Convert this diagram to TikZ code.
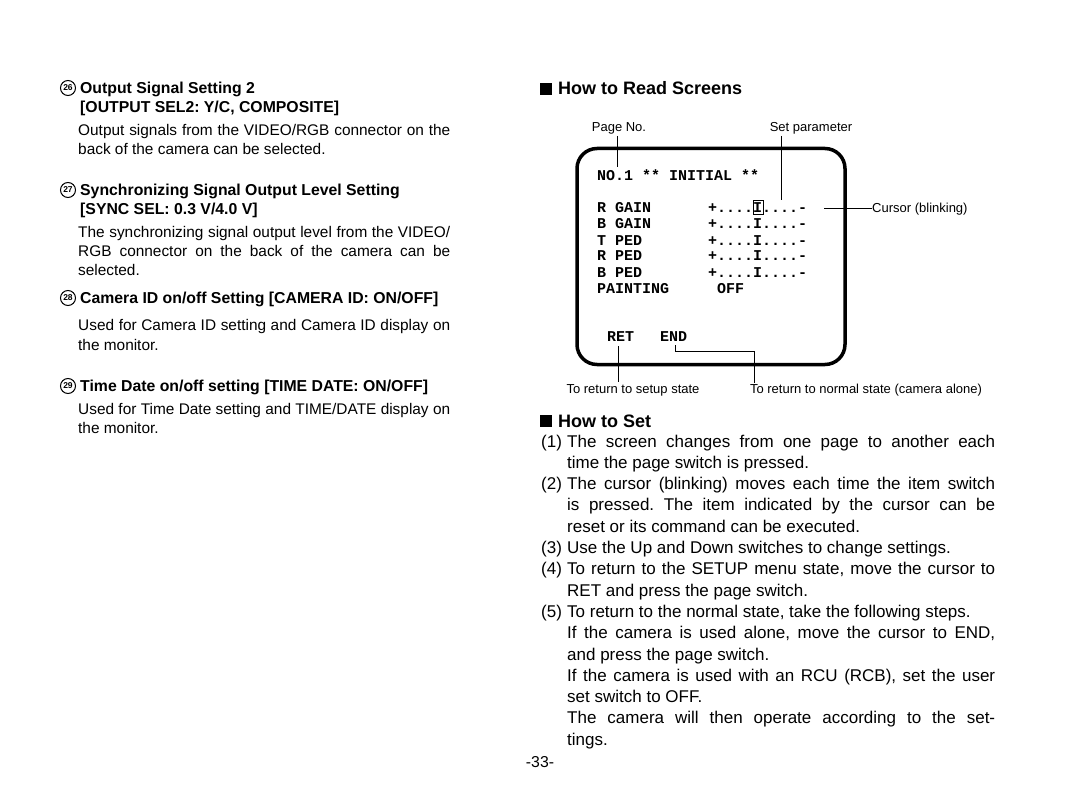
\documentclass[tikz,border=0pt]{standalone}
\usepackage{fontspec}
\setmainfont{Liberation Sans}
\newfontfamily\scrmono{Liberation Mono}
\newcommand\jl[1]{\makebox[372pt][s]{#1}}
\newcommand\jr[1]{\makebox[428pt][s]{#1}}
\frenchspacing
\begin{document}
\begin{tikzpicture}[x=1pt,y=-1pt,
  body/.style={anchor=base west, inner sep=0pt, font=\fontsize{15.4}{19}\selectfont},
  bodyr/.style={anchor=base west, inner sep=0pt, font=\fontsize{17}{21}\selectfont},
  head/.style={anchor=base west, inner sep=0pt, font=\fontsize{15.8}{19}\selectfont\bfseries},
  headr/.style={anchor=base west, inner sep=0pt, font=\fontsize{18}{21}\selectfont\bfseries},
  capt/.style={anchor=base, inner sep=0pt, font=\fontsize{13}{15}\selectfont},
  scr/.style={anchor=base west, inner sep=0pt, font=\fontsize{15}{16}\selectfont\scrmono\bfseries},
  num/.style={circle, draw, line width=1pt, inner sep=0pt, minimum size=15pt, font=\fontsize{8.5}{9}\selectfont\bfseries},
  lead/.style={line width=0.8pt},
  sq/.style={fill=black, minimum size=12pt, inner sep=0pt}]
\useasboundingbox (0,0) rectangle (1080,797);
\fill[white] (0,0) rectangle (1080,797);

% ---------------- left column ----------------
\node[num] (n26) at (68,88) {26};
\node[head] (t26a) at (80,93.5) {Output Signal Setting 2};
\node[head] (t26b) at (80,112.5) {[OUTPUT SEL2: Y/C, COMPOSITE]};
\node[body] (b26a) at (78,135.5) {\jl{Output signals from the VIDEO/RGB connector on the}};
\node[body] (b26b) at (78,154.5) {back of the camera can be selected.};

\node[num] (n27) at (68,190) {27};
\node[head] (t27a) at (80,195.5) {Synchronizing Signal Output Level Setting};
\node[head] (t27b) at (80,214.5) {[SYNC SEL: 0.3 V/4.0 V]};
\node[body] (b27a) at (78,237.5) {\jl{The synchronizing signal output level from the VIDEO/}};
\node[body] (b27b) at (78,256.5) {\jl{RGB connector on the back of the camera can be}};
\node[body] (b27c) at (78,275.5) {selected.};

\node[num] (n28) at (68,298) {28};
\node[head] (t28a) at (80,303.5) {Camera ID on/off Setting [CAMERA ID: ON/OFF]};
\node[body] (b28a) at (78,330) {\jl{Used for Camera ID setting and Camera ID display on}};
\node[body] (b28b) at (78,350) {the monitor.};

\node[num] (n29) at (68,386) {29};
\node[head] (t29a) at (80,391.5) {Time Date on/off setting [TIME DATE: ON/OFF]};
\node[body] (b29a) at (78,414.5) {\jl{Used for Time Date setting and TIME/DATE display on}};
\node[body] (b29b) at (78,433.5) {the monitor.};

% ---------------- right column: screen ----------------
\node[sq] (sq1) at (546,89) {};
\node[headr] (h1) at (558,95) {How to Read Screens};

\node[capt] (pageno) at (619,131.5) {Page No.};
\node[capt] (setpar) at (811,131.5) {Set parameter};

\node[draw, line width=3.5pt, rounded corners=20pt, minimum width=268pt, minimum height=216pt, inner sep=0pt] (screen) at (711,256.5) {};

\node[scr] (s0) at (597,181) {NO.1 ** INITIAL **};
\node[scr] (s1) at (597,213) {R GAIN};
\node[scr] (s2) at (597,229) {B GAIN};
\node[scr] (s3) at (597,245) {T PED};
\node[scr] (s4) at (597,261) {R PED};
\node[scr] (s5) at (597,277) {B PED};
\node[scr] (s6) at (597,293) {PAINTING};
\node[scr] (v1) at (708,213) {+....I....-};
\node[scr] (v2) at (708,229) {+....I....-};
\node[scr] (v3) at (708,245) {+....I....-};
\node[scr] (v4) at (708,261) {+....I....-};
\node[scr] (v5) at (708,277) {+....I....-};
\node[scr] (v6) at (717,293) {OFF};
\node[scr] (ret) at (607,341) {RET};
\node[scr] (endn) at (660,341) {END};
\node[draw, line width=0.8pt, minimum width=10pt, minimum height=14pt, inner sep=0pt] (cursor) at (758,207.5) {};

\node[capt, anchor=base west] (curlab) at (872,212.5) {Cursor (blinking)};
\node[capt] (retlab) at (633,393.5) {To return to setup state};
\node[capt] (endlab) at (866,393.5) {To return to normal state (camera alone)};

\coordinate (p1) at (617,136);
\coordinate (p2) at (617,167);
\coordinate (q1) at (781,136);
\coordinate (q2) at (781,200);
\coordinate (c1) at (824,208);
\coordinate (r1) at (618,346);
\coordinate (r2) at (618,382);
\coordinate (e1) at (675,345);
\coordinate (e2) at (675,351);
\coordinate (e3) at (754,351);
\coordinate (e4) at (754,383);

\draw[lead] (p1) -- (p2);
\draw[lead] (q1) -- (q2);
\draw[lead] (c1) -- (curlab.west |- c1);
\draw[lead] (r1) -- (r2);
\draw[lead] (e1) -- (e2) -- (e3) -- (e4);

% ---------------- right column: how to set ----------------
\node[sq] (sq2) at (546,421) {};
\node[headr] (h2) at (558,427) {How to Set};

\node[bodyr] (i1) at (541,447) {(1)};
\node[bodyr] (l1a) at (567,447) {\jr{The screen changes from one page to another each}};
\node[bodyr] (l1b) at (567,468.3) {time the page switch is pressed.};
\node[bodyr] (i2) at (541,489.6) {(2)};
\node[bodyr] (l2a) at (567,489.6) {\jr{The cursor (blinking) moves each time the item switch}};
\node[bodyr] (l2b) at (567,510.9) {\jr{is pressed. The item indicated by the cursor can be}};
\node[bodyr] (l2c) at (567,532.2) {reset or its command can be executed.};
\node[bodyr] (i3) at (541,553.5) {(3)};
\node[bodyr] (l3a) at (567,553.5) {Use the Up and Down switches to change settings.};
\node[bodyr] (i4) at (541,574.8) {(4)};
\node[bodyr] (l4a) at (567,574.8) {\jr{To return to the SETUP menu state, move the cursor to}};
\node[bodyr] (l4b) at (567,596.1) {RET and press the page switch.};
\node[bodyr] (i5) at (541,617.4) {(5)};
\node[bodyr] (l5a) at (567,617.4) {To return to the normal state, take the following steps.};
\node[bodyr] (l5b) at (567,638.7) {\jr{If the camera is used alone, move the cursor to END,}};
\node[bodyr] (l5c) at (567,660) {and press the page switch.};
\node[bodyr] (l5d) at (567,681.3) {\jr{If the camera is used with an RCU (RCB), set the user}};
\node[bodyr] (l5e) at (567,702.6) {set switch to OFF.};
\node[bodyr] (l5f) at (567,723.9) {\jr{The camera will then operate according to the set-}};
\node[bodyr] (l5g) at (567,745.2) {tings.};

\node[anchor=base, inner sep=0pt, font=\fontsize{15.8}{19}\selectfont] (pg) at (540,767.5) {-33-};
\end{tikzpicture}
\end{document}
